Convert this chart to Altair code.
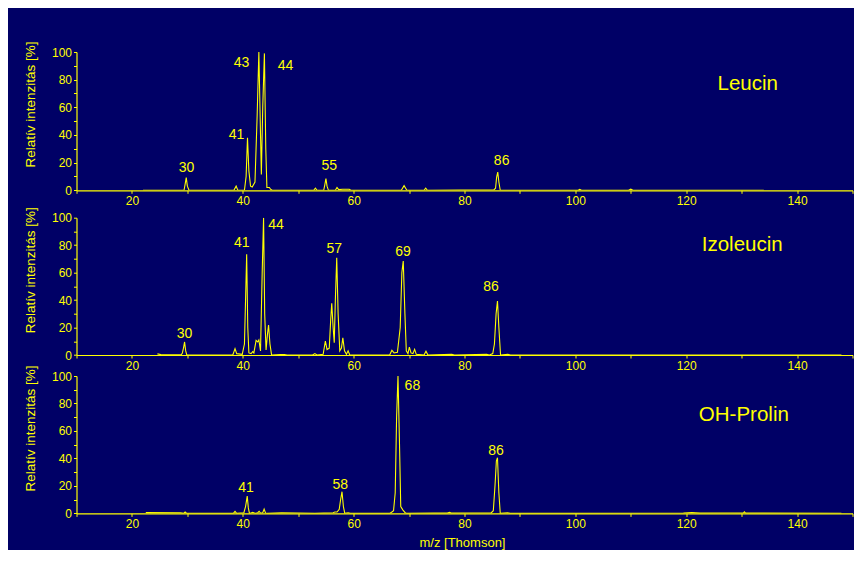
import altair as alt
import pandas as pd

BG = "#000066"
YEL = "#ffff00"
FONT = "Liberation Sans"

# ---------------- data: Leucin ----------------
leu_mz = [22.0, 29.4, 29.6, 29.8, 30.0, 30.3, 38.4, 38.8, 39.1, 40.3, 40.6, 40.85, 41.1, 41.4, 41.7,
          42.2, 42.6, 42.9, 43.2, 43.35, 43.6, 43.9, 44.15, 44.35, 44.8, 45.0, 45.3,
          52.8, 53.1, 53.4, 54.6, 54.8, 55.0, 55.2, 55.45, 56.7, 57.0, 57.3, 58.0, 59.2, 59.5,
          68.6, 69.1, 69.6, 72.7, 73.0, 73.3, 85.3, 85.6, 85.8, 86.0, 86.2, 86.45,
          100.5, 100.8, 101.1, 109.6, 110.0, 110.4, 134.0]
leu_int = [0.0, 0.0, 4.5, 9.2, 3.0, 0.0, 0.0, 3.0, 0.0, 0.0, 10.0, 38.0, 14.0, 3.0, 2.4,
           6.0, 55.0, 100.0, 40.0, 11.5, 60.0, 99.0, 30.0, 2.0, 2.0, 0.8, 0.0,
           0.0, 1.5, 0.0, 0.0, 4.0, 8.5, 3.0, 0.0, 0.0, 2.0, 0.5, 0.8, 0.8, 0.0,
           0.0, 3.4, 0.0, 0.0, 1.5, 0.0, 0.3, 1.5, 9.6, 13.2, 6.0, 0.0,
           0.0, 0.6, 0.0, 0.0, 0.8, 0.0, 0.0]
leu_lab = ["30", "41", "43", "44", "55", "86", "Leucin"]
leu_lab_x = [29.85, 38.87, 39.77, 47.7, 55.6, 86.7, 131.1]
leu_lab_y = [15.9, 39.8, 91.8, 89.7, 17.4, 21.0, 77.0]

# ---------------- data: Izoleucin ----------------
ile_mz = [24.6, 25.2, 27.5, 28.9, 29.1, 29.3, 29.5, 29.7, 29.9, 38.2, 38.6, 38.9, 39.9, 40.3, 40.5,
          40.7, 40.9, 41.1, 41.5, 41.8, 42.0, 42.4, 42.7, 42.9, 43.2, 43.5, 43.75, 43.95, 44.2,
          44.45, 44.65, 44.9, 45.2, 46.8, 47.5, 48.0, 52.6, 53.0, 53.4, 54.5, 54.9, 55.2, 55.6,
          55.85, 56.05, 56.3, 56.5, 56.7, 56.95, 57.2, 57.5, 57.8, 58.05, 58.35, 58.7, 59.0, 59.3,
          66.5, 66.9, 67.3, 67.9, 68.4, 68.7, 68.95, 69.25, 69.5, 69.8, 70.05, 70.35, 70.7, 71.0,
          71.3, 72.7, 73.05, 73.4, 77.7, 78.2, 84.0, 84.5, 85.1, 85.4, 85.7, 85.95, 86.2, 86.5,
          87.8, 88.3, 148.0]
ile_int = [0.8, 0.3, 0.2, 0.2, 1.5, 5.0, 9.5, 3.0, 0.0, 0.0, 4.6, 1.0, 0.5, 8.0, 40.0,
           73.3, 20.0, 1.5, 1.0, 2.4, 1.5, 10.7, 9.5, 11.0, 3.0, 60.0, 100.0, 30.0, 3.6,
           15.0, 21.8, 8.0, 0.0, 0.4, 0.4, 0.0, 0.0, 1.0, 0.0, 0.5, 10.2, 4.0, 5.0,
           25.0, 37.6, 20.0, 9.0, 40.0, 70.9, 30.0, 3.0, 5.0, 12.6, 3.0, 0.5, 3.0, 0.0,
           0.0, 3.4, 1.5, 2.0, 20.0, 60.0, 68.5, 30.0, 3.0, 1.0, 5.8, 1.5, 1.0, 4.1,
           0.5, 0.0, 2.7, 0.0, 0.5, 0.0, 0.5, 0.0, 1.0, 8.0, 30.0, 39.3, 20.0, 0.0,
           0.5, 0.0, 0.0]
ile_lab = ["30", "41", "44", "57", "69", "86", "Izoleucin"]
ile_lab_x = [29.5, 39.8, 46.0, 56.5, 68.9, 84.8, 130.1]
ile_lab_y = [15.5, 81.8, 94.5, 77.0, 75.2, 49.7, 80.1]

# ---------------- data: OH-Prolin ----------------
hyp_mz = [22.5, 28.8, 29.3, 29.6, 29.9, 38.3, 38.6, 38.9, 40.2, 40.5, 40.8, 41.0, 41.2, 41.8, 42.3,
          42.7, 42.95, 43.2, 43.6, 43.85, 44.1, 44.5, 47.0, 50.0, 53.0, 56.3, 56.6, 57.0, 57.4,
          57.65, 57.9, 58.15, 58.4, 59.0, 59.4, 66.5, 66.9, 67.2, 67.5, 67.75, 68.0, 68.25, 68.5,
          68.9, 69.3, 69.6, 74.5, 76.9, 77.3, 77.6, 80.5, 84.8, 85.2, 85.5, 85.75, 85.95, 86.2,
          86.45, 87.8, 88.2, 100.0, 119.5, 121.0, 122.5, 128.0, 130.3, 130.5, 130.7, 134.0, 148.0]
hyp_int = [0.6, 0.4, 0.0, 1.0, 0.0, 0.0, 1.5, 0.0, 0.5, 5.0, 12.6, 4.0, 0.0, 0.8, 0.0,
           0.5, 1.5, 0.3, 0.5, 3.1, 0.3, 0.0, 0.4, 0.3, 0.0, 0.5, 1.0, 1.0, 3.0,
           10.0, 15.8, 5.0, 0.0, 0.5, 0.0, 0.0, 1.0, 2.0, 15.0, 70.0, 100.0, 55.0, 5.0,
           2.4, 0.5, 0.0, 0.3, 0.2, 0.7, 0.2, 0.3, 0.3, 2.0, 20.0, 38.0, 40.5, 15.0,
           0.0, 0.5, 0.0, 0.0, 0.3, 0.6, 0.2, 0.3, 0.2, 1.2, 0.2, 0.2, 0.1]
hyp_lab = ["41", "58", "68", "86", "OH-Prolin"]
hyp_lab_x = [40.6, 57.6, 70.6, 85.7, 130.4]
hyp_lab_y = [18.2, 20.7, 92.7, 45.4, 71.6]

x_ticks = list(range(10, 151, 10))
y_ticks = list(range(0, 101, 10))

W = 776


def panel(mz, inten, labs, lx, ly, h, xtitle):
    df = pd.DataFrame({"mz": mz, "int": inten})
    lab_df = pd.DataFrame({"mz": lx, "int": ly, "t": labs,
                           "big": [not l.isdigit() for l in labs]})
    xax = alt.Axis(values=x_ticks, labelExpr="datum.value % 20 == 0 ? datum.label : ''",
                   title=xtitle if xtitle else None, titleY=29, titleX=385.5,
                   titleBaseline="middle", titleFontSize=13)
    yax = alt.Axis(values=y_ticks, labelExpr="datum.value % 20 == 0 ? datum.label : ''",
                   title="Relatív intenzitás [%]", titleAngle=270, titleX=-46, titleY=52,
                   titleAlign="center", titleBaseline="middle", titleFontSize=13.5)
    x = alt.X("mz:Q", scale=alt.Scale(domain=[10, 150], nice=False, zero=False), axis=xax)
    y = alt.Y("int:Q", scale=alt.Scale(domain=[0, 100], nice=False), axis=yax)
    line = alt.Chart(df).mark_line(color=YEL, strokeWidth=1.1, clip=True).encode(x=x, y=y)
    small = alt.Chart(lab_df).transform_filter("!datum.big").mark_text(
        color=YEL, font=FONT, fontSize=14, align="center", baseline="middle"
    ).encode(x=x, y=y, text="t:N")
    big = alt.Chart(lab_df).transform_filter("datum.big").mark_text(
        color=YEL, font=FONT, fontSize=20.5, align="center", baseline="middle"
    ).encode(x=x, y=y, text="t:N")
    return alt.layer(line, small, big).properties(width=W, height=h)


p1 = panel(leu_mz, leu_int, leu_lab, leu_lab_x, leu_lab_y, 138.3, None)
p2 = panel(ile_mz, ile_int, ile_lab, ile_lab_x, ile_lab_y, 137.3, None)
p3 = panel(hyp_mz, hyp_int, hyp_lab, hyp_lab_x, hyp_lab_y, 137.4, "m/z [Thomson]")

inner = alt.vconcat(p2, p3, spacing=20.3, bounds="flush")
chart = alt.vconcat(p1, inner, spacing=26.7, bounds="flush").properties(
    background=BG,
    padding={"left": 15.5, "top": 32, "right": 0, "bottom": 0},
).configure_view(stroke=None).configure_axis(
    grid=False,
    domainColor=YEL,
    domainWidth=1.2,
    tickColor=YEL,
    tickSize=3,
    tickWidth=1,
    labelColor=YEL,
    titleColor=YEL,
    labelFont=FONT,
    titleFont=FONT,
    labelFontSize=12,
    labelPadding=2,
    labelFlush=False,
    labelOverlap=False,
    titleFontWeight="normal",
)

chart.save("out.html", embed_options={"renderer": "svg", "actions": False})
